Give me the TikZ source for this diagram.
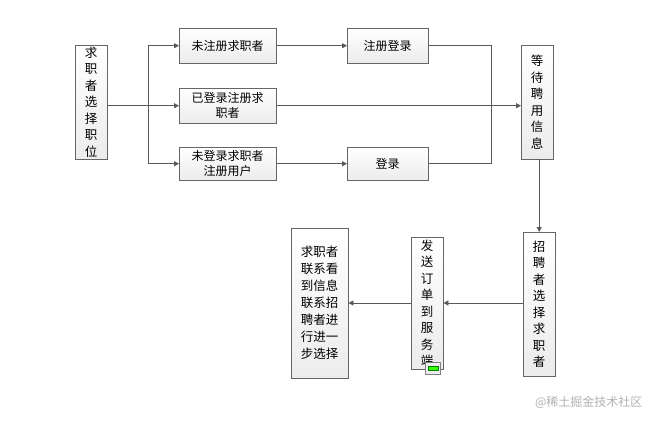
\documentclass[tikz,border=0pt]{standalone}
\usepackage{fontspec}
\newfontfamily\cjk{Noto Sans CJK SC}
\usetikzlibrary{arrows.meta}
\begin{document}
\begin{tikzpicture}[x=1pt,y=-1pt,
  box/.style={draw=gray!80!black,top color=white,bottom color=gray!15,inner sep=0pt,align=center,font=\cjk\fontsize{12}{15}\selectfont,anchor=north west},
  vbox/.style={box,font=\cjk\fontsize{12.5}{16.5}\selectfont},
  arr/.style={draw=gray!70!black,line width=0.8pt,-{Triangle[length=5pt,width=5pt]}},
  ln/.style={draw=gray!70!black,line width=0.8pt}]
\useasboundingbox (0,0) rectangle (659,423);
\fill[white] (0,0) rectangle (659,423);
\node[vbox,minimum width=32pt,minimum height=114pt] (A) at (75,45) {求\\职\\者\\选\\择\\职\\位};
\node[box,minimum width=97pt,minimum height=35pt] (B) at (179,28) {未注册求职者};
\node[box,minimum width=81pt,minimum height=35pt] (C) at (347,28) {注册登录};
\node[box,minimum width=97pt,minimum height=35pt] (D) at (179,88) {已登录注册求\\职者};
\node[box,minimum width=97pt,minimum height=33pt] (E) at (179,147) {未登录求职者\\注册用户};
\node[box,minimum width=81pt,minimum height=33pt] (F) at (347,147) {登录};
\node[vbox,minimum width=32pt,minimum height=114pt] (G) at (521,45) {等\\待\\聘\\用\\信\\息};
\node[vbox,minimum width=32pt,minimum height=144pt] (H) at (523,232) {招\\聘\\者\\选\\择\\求\\职\\者};
\node[vbox,minimum width=32pt,minimum height=132pt] (I) at (411,237) {发\\送\\订\\单\\到\\服\\务\\端};
\node[box,minimum width=57pt,minimum height=150pt,font=\cjk\fontsize{12.5}{17}\selectfont] (J) at (291,228) {求职者\\联系看\\到信息\\联系招\\聘者进\\行进一\\步选择};
\coordinate (br) at (148,103);
\coordinate (mg) at (491,103);
\draw[arr] (A.east |- D.west) -- (D.west);
\draw[arr] (br) |- (B.west);
\draw[arr] (br) |- (E.west);
\draw[arr] (B) -- (C);
\draw[arr] (E) -- (F);
\draw[arr] (D.east) -- (G.west |- D.east);
\draw[ln] (C.east) -| (mg);
\draw[ln] (F.east) -| (mg);
\draw[arr] (G.south) -- (G.south -| H.north) -- (H.north);
\draw[arr] (H.west |- 0,303) -- (I.east |- 0,303);
\draw[arr] (I.west |- 0,303) -- (J.east |- 0,303);
\node[draw=gray,fill=gray!15,minimum width=15pt,minimum height=12pt,inner sep=0pt] (ic) at (433,368) {};
\node[fill=green!70!lime,draw=green!50!black,minimum width=10pt,minimum height=4pt,inner sep=0pt] (icg) at (433,368) {};
\node[font=\cjk\fontsize{12}{13}\selectfont,text=gray!60,anchor=east] (wm) at (646,402) {@稀土掘金技术社区};
\end{tikzpicture}
\end{document}
